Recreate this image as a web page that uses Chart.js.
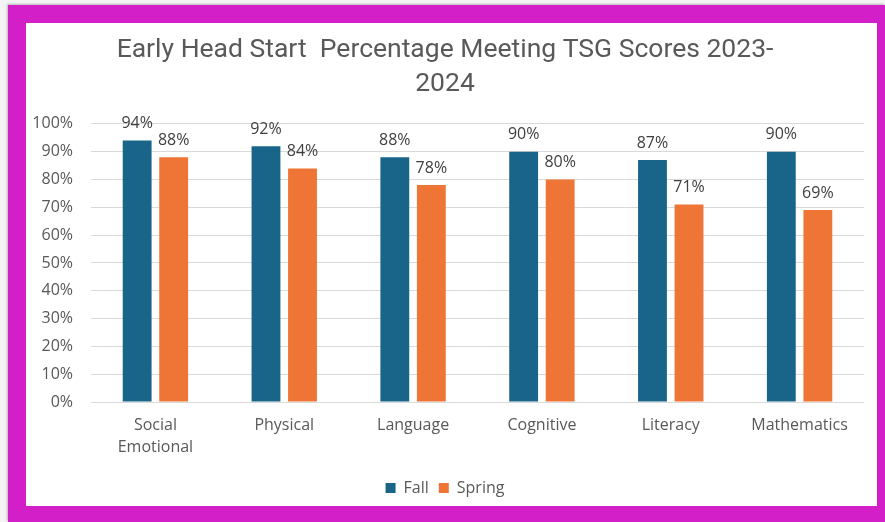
<!DOCTYPE html>
<html>
<head>
<meta charset="utf-8">
<script src="https://cdn.jsdelivr.net/npm/chart.js@4"></script>
<style>
  html, body { margin: 0; padding: 0; background: #f4f4f4; }
  #frame {
    position: absolute; left: 8px; top: 5px; right: 0; bottom: 0;
    background: #d21fc8;
    box-shadow: -1px -1px 2px rgba(0,0,0,0.25);
  }
  #panel {
    position: absolute; left: 26px; top: 23px; width: 851px; height: 483px;
    background: #ffffff;
  }
</style>
</head>
<body>
<div id="frame"></div>
<div id="panel"><canvas id="tsgChart" width="851" height="483"></canvas></div>
<script>
// chart data
const categories = [["Social", "Emotional"], "Physical", "Language", "Cognitive", "Literacy", "Mathematics"];
const fallValues = [94, 92, 88, 90, 87, 90];
const springValues = [88, 84, 78, 80, 71, 69];
const yTicks = [0, 10, 20, 30, 40, 50, 60, 70, 80, 90, 100];

const textFont = "'Open Sans', 'DejaVu Sans', sans-serif";

// draws the percentage above every bar
const valueLabels = {
  id: "valueLabels",
  afterDatasetsDraw(chart) {
    const ctx = chart.ctx;
    ctx.save();
    ctx.font = "16px " + textFont;
    ctx.fillStyle = "#404040";
    ctx.textAlign = "center";
    ctx.textBaseline = "middle";
    chart.data.datasets.forEach((ds, i) => {
      chart.getDatasetMeta(i).data.forEach((bar, j) => {
        ctx.fillText(ds.data[j] + "%", bar.x, bar.y - 17);
      });
    });
    ctx.restore();
  }
};

let ctx = document.getElementById("tsgChart").getContext("2d");
new Chart(ctx, {
  type: "bar",
  data: {
    labels: categories,
    datasets: [
      { label: "Fall", data: fallValues, backgroundColor: "#186589" },
      { label: "Spring", data: springValues, backgroundColor: "#ee7535" }
    ]
  },
  options: {
    responsive: false,
    animation: false,
    datasets: { bar: { categoryPercentage: 0.567, barPercentage: 0.79 } },
    layout: { padding: { left: 0, right: 13, top: 0, bottom: 0 } },
    plugins: {
      title: {
        display: true,
        text: ["Early Head Start  Percentage Meeting TSG Scores 2023-", "2024"],
        color: "#595959",
        font: { family: "Roboto, 'Open Sans', sans-serif", size: 26.5, weight: "normal", lineHeight: 1.3 },
        padding: { top: 10, bottom: 22 }
      },
      legend: {
        position: "bottom",
        labels: {
          color: "#595959",
          font: { family: textFont, size: 16 },
          boxWidth: 10,
          boxHeight: 10,
          padding: 10
        }
      },
      tooltip: { enabled: false }
    },
    scales: {
      x: {
        grid: { display: false },
        border: { display: false },
        ticks: { color: "#595959", font: { family: textFont, size: 16, lineHeight: 1.35 }, padding: 5, maxRotation: 0 },
        afterFit(scale) { scale.height = 68; }
      },
      y: {
        min: 0,
        max: 100,
        afterBuildTicks(scale) { scale.ticks = yTicks.map(v => ({ value: v })); },
        grid: { color: "#d9d9d9", drawTicks: false },
        border: { display: false },
        ticks: {
          color: "#595959",
          font: { family: textFont, size: 16 },
          padding: 18,
          callback: v => v + "%"
        },
        afterFit(scale) { scale.width = 65; }
      }
    }
  },
  plugins: [valueLabels]
});
</script>
</body>
</html>
